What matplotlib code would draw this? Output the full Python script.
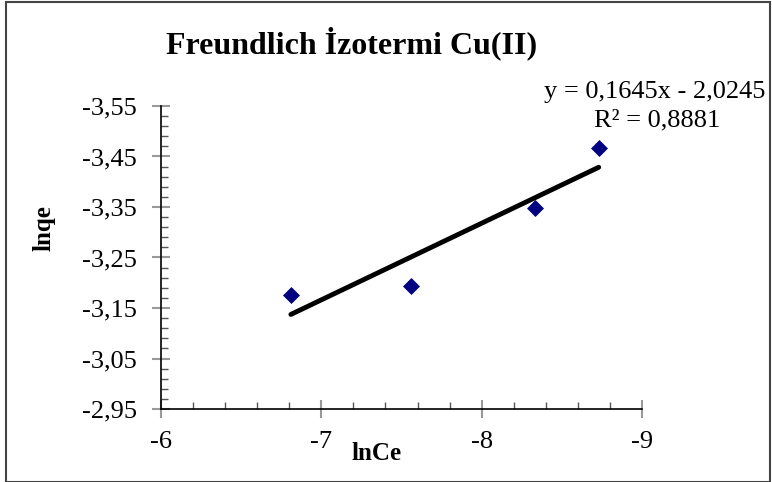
import numpy as np
import matplotlib
matplotlib.use('Agg')
import matplotlib.pyplot as plt
from matplotlib.ticker import MultipleLocator, FuncFormatter
from matplotlib.patches import Rectangle

plt.rcParams['font.family'] = ['Liberation Serif', 'DejaVu Serif']

# veri (lnCe, lnqe)
lnCe = [-6.81, -7.56, -8.33, -8.73]
lnqe = [-3.176, -3.194, -3.349, -3.466]
eq_text = "y = 0,1645x - 2,0245"
r2_text = "R² = 0,8881"

W, H = 772, 482
fig = plt.figure(figsize=(W / 100, H / 100), dpi=100)
ax = fig.add_axes([161 / W, 1 - 409 / H, (642 - 161) / W, (409 - 106) / H])

ax.scatter(lnCe, lnqe, marker='D', s=75, color='#000080', zorder=3, linewidths=0)

# trend çizgisi
k, b = np.polyfit(lnCe, lnqe, 1)
xs = np.array([min(lnCe), max(lnCe)])
ax.plot(xs, k * xs + b, color='black', linewidth=3.5, solid_capstyle='round', zorder=2)

ax.set_xlim(-6, -9)
ax.set_ylim(-2.95, -3.55)
ax.xaxis.set_major_locator(MultipleLocator(1))
ax.xaxis.set_minor_locator(MultipleLocator(0.2))
ax.yaxis.set_major_locator(MultipleLocator(0.1, offset=0.05))
ax.yaxis.set_minor_locator(MultipleLocator(0.02, offset=0.01))
ax.xaxis.set_major_formatter(FuncFormatter(lambda v, p: f"{v:.0f}"))
ax.yaxis.set_major_formatter(FuncFormatter(lambda v, p: f"{v:.2f}".replace('.', ',')))

for s in ['top', 'right']:
    ax.spines[s].set_visible(False)
for s in ['left', 'bottom']:
    ax.spines[s].set_linewidth(1.2)

ax.tick_params(which='major', direction='inout', length=13, width=1.5, color='#999999',
               labelsize=19)
ax.tick_params(axis='y', which='major', pad=11)
ax.tick_params(axis='x', which='major', pad=9)
ax.tick_params(which='minor', direction='in', length=5, width=1, color='#555555')

ax.set_xlabel('lnCe', fontsize=18, fontweight='bold')
ax.set_ylabel('lnqe', fontsize=18, fontweight='bold')
ax.xaxis.set_label_coords((377 - 161) / (642 - 161), -(442 - 409) / (409 - 106))
ax.yaxis.set_label_coords(-(161 - 56) / (642 - 161), (409 - 228) / (409 - 106))

fig.text(352 / W, 1 - 43 / H, 'Freundlich İzotermi Cu(II)', ha='center', va='center',
         fontsize=23, fontweight='bold')
fig.text(655 / W, 1 - 92 / H, eq_text, ha='center', va='center', fontsize=19)
fig.text(657 / W, 1 - 120 / H, r2_text, ha='center', va='center', fontsize=19)

fig.patches.append(Rectangle((6 / W, 0.5 / H), (770 - 6) / W, 1 - 2 / H,
                             transform=fig.transFigure, fill=False,
                             edgecolor='#444444', linewidth=1.5))

fig.savefig('out.png', dpi=100)
